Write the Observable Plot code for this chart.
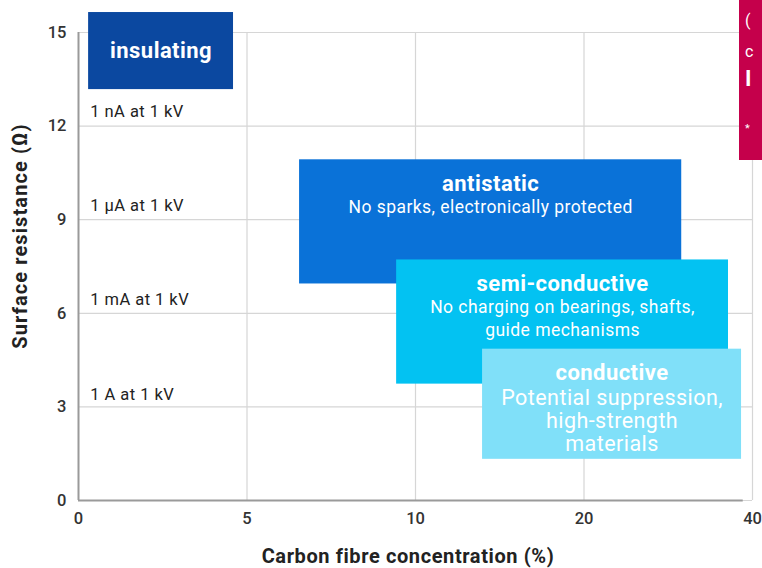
<!DOCTYPE html>
<html>
<head>
<meta charset="utf-8">
<script src="https://cdn.jsdelivr.net/npm/d3@7"></script>
<script src="https://cdn.jsdelivr.net/npm/@observablehq/plot@0.6"></script>
<style>
  html, body { margin: 0; padding: 0; background: #fff; overflow: hidden; }
  #wrap { position: relative; width: 762px; height: 568px; }
  #side { position: absolute; left: 739px; top: 0; width: 23px; height: 160px; background: #c5004b; color: #fff;
          font-family: Roboto, sans-serif; overflow: hidden; }
  #side div { position: absolute; left: 6px; white-space: nowrap; }
</style>
</head>
<body>
<div id="wrap">
  <div id="chart"></div>
  <div id="side">
    <div style="top:11px;font-size:16px;">(</div>
    <div style="top:42px;font-size:16px;">c</div>
    <div style="top:66px;font-size:22px;font-weight:bold;">I</div>
    <div style="top:122px;font-size:11px;">*</div>
  </div>
</div>
<script>
// ---- data ----
const xTicks = [0, 5, 10, 20, 40];
const yTicks = [0, 3, 6, 9, 12, 15];
const classes = ["insulating", "antistatic", "semi-conductive", "conductive"];
const descriptions = ["", "No sparks, electronically protected", "No charging on bearings, shafts,\nguide mechanisms", "Potential suppression,\nhigh-strength\nmaterials"];
const concFrom = [0.3, 6.56, 9.44, 13.98];
const concTo = [4.6, 31.6, 37.15, 38.7];
const resFrom = [13.17, 6.94, 3.73, 1.32];
const resTo = [15.64, 10.92, 7.71, 4.85];
const currentLabels = ["1 nA at 1 kV", "1 µA at 1 kV", "1 mA at 1 kV", "1 A at 1 kV"];
const currentLevels = [12.45, 9.45, 6.45, 3.4];
const classColors = ["#0b48a0", "#0a72d8", "#03c2f2", "#80e0f9"];

const W = 762, H = 568;
const xRange = [78, 246.5, 415, 583.5, 752];
const font = "Roboto, 'Noto Sans', sans-serif";

const xScale = Plot.scale({x: {type: "linear", domain: xTicks, range: xRange}});
const boxes = classes.map((name, i) => {
  const px = (xScale.apply(concFrom[i]) + xScale.apply(concTo[i])) / 2;
  return {name, desc: descriptions[i], x1: concFrom[i], x2: concTo[i], y1: resFrom[i], y2: resTo[i],
          cx: xScale.invert(px), cy: (resFrom[i] + resTo[i]) / 2};
});
const currents = currentLabels.map((t, i) => ({t, y: currentLevels[i]}));

const chart = Plot.plot({
  width: W,
  height: H,
  marginLeft: 78,
  marginRight: 10,
  marginTop: 32,
  marginBottom: 68,
  style: {fontFamily: font, background: "transparent"},
  x: {type: "linear", domain: xTicks, range: xRange, ticks: xTicks, label: null},
  y: {domain: [0, 15], ticks: yTicks, label: null},
  color: {domain: classes, range: classColors},
  marks: [
    Plot.gridY(yTicks, {stroke: "#d6d6d6", strokeOpacity: 1, strokeWidth: 1.2, x1: 0, x2: 40}),
    Plot.gridX(xTicks.slice(1), {stroke: "#d6d6d6", strokeOpacity: 1, strokeWidth: 1.2, y1: 0, y2: 15}),
    Plot.ruleX([0], {y1: 0, y2: 15, stroke: "#9a9a9a", strokeWidth: 2}),
    Plot.ruleY([0], {x1: 0, x2: 38.9, stroke: "#9a9a9a", strokeWidth: 2}),
    Plot.axisX(xTicks, {tickSize: 0, tickPadding: 12, fontSize: 16.5, fontWeight: 500, fill: "#333", label: null}),
    Plot.axisY(yTicks, {tickSize: 0, tickPadding: 12, fontSize: 16.5, fontWeight: 500, fill: "#333", label: null}),
    Plot.text(currents, {x: 0.35, y: "y", text: "t", textAnchor: "start", fontSize: 16.5, fill: "#222"}),
    Plot.rect(boxes, {x1: "x1", x2: "x2", y1: "y1", y2: "y2", fill: "name"}),
    Plot.text(boxes.slice(0, 1), {x: "cx", y: "cy", text: "name", fill: "#fff", fontSize: 22, fontWeight: "bold"}),
    Plot.text(boxes.slice(1), {x: "cx", y: "y2", text: "name", dy: 24, fill: "#fff", fontSize: 22, fontWeight: "bold"}),
    Plot.text(boxes.slice(1, 3), {x: "cx", y: "y2", text: "desc", dy: 37, lineAnchor: "top", lineHeight: 1.3, fill: "#fff", fontSize: 17.5}),
    Plot.text(boxes.slice(3), {x: "cx", y: "y2", text: "desc", dy: 39, lineAnchor: "top", lineHeight: 1.07, fill: "#fff", fontSize: 21.5})
  ]
});

const svg = d3.select(chart);
svg.selectAll('g[aria-label="text"]').attr("letter-spacing", "0.45px");
svg.append("text")
  .attr("transform", "translate(22,236) rotate(-90)")
  .attr("text-anchor", "middle")
  .attr("dominant-baseline", "middle")
  .attr("font-family", font)
  .attr("font-size", 20)
  .attr("font-weight", "bold")
  .attr("letter-spacing", "1.1px")
  .attr("fill", "#222")
  .text("Surface resistance (Ω)");
svg.append("text")
  .attr("x", 408)
  .attr("y", 558)
  .attr("text-anchor", "middle")
  .attr("dominant-baseline", "middle")
  .attr("font-family", font)
  .attr("font-size", 20)
  .attr("font-weight", "bold")
  .attr("letter-spacing", "0.6px")
  .attr("fill", "#222")
  .text("Carbon fibre concentration (%)");

document.getElementById("chart").appendChild(chart);
</script>
</body>
</html>
